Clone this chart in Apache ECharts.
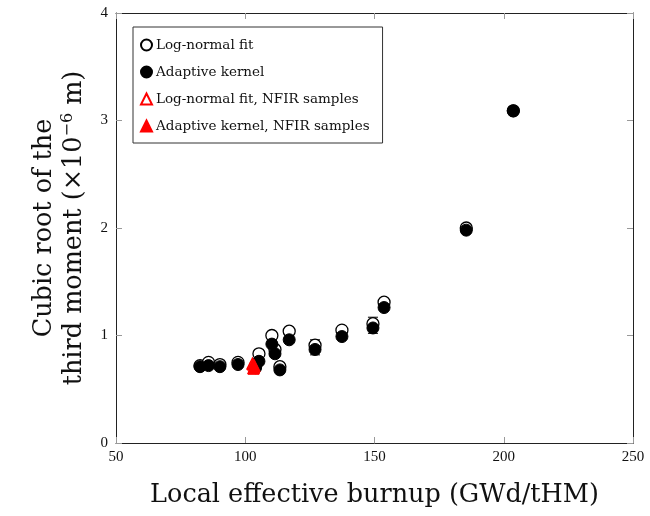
<!DOCTYPE html>
<html>
<head>
<meta charset="utf-8">
<script src="https://cdn.jsdelivr.net/npm/echarts@6/dist/echarts.min.js"></script>
<style>
  html, body { margin: 0; padding: 0; background: #fff; }
  #chart { width: 650px; height: 516px; }
</style>
</head>
<body>
<div id="chart"></div>
<script>
// Local effective burnup (GWd/tHM) of each sample
const burnup = [82.5, 85.8, 90.2, 97.2, 104.0, 105.3, 110.3, 111.5, 113.4, 117.0, 127.0, 137.4, 149.4, 153.7, 185.5, 203.7];
// Cubic root of the third moment (×10^-6 m)
const logNormal = [0.72, 0.75, 0.73, 0.75, 0.72, 0.83, 1.00, 0.87, 0.71, 1.04, 0.91, 1.05, 1.11, 1.31, 2.00, 3.09];
const adaptive  = [0.71, 0.72, 0.71, 0.73, 0.70, 0.76, 0.92, 0.83, 0.68, 0.96, 0.87, 0.99, 1.07, 1.26, 1.98, 3.09];

// NFIR samples
const nfirBurnup    = [102.8, 103.5, 103.2];
const nfirLogNormal = [0.74, 0.72, 0.70];
const nfirAdaptive  = [0.73, 0.71, 0.69];

// Uncertainty ranges of the log-normal fit
const errBurnup = [127.0, 149.4];
const errLow    = [0.82, 1.02];
const errHigh   = [0.96, 1.17];

const xTicks = [50, 100, 150, 200, 250];
const yTicks = [0, 1, 2, 3, 4];

const pairs = (xs, ys) => xs.map((x, i) => [x, ys[i]]);

const tickFont = '"Liberation Serif", "DejaVu Serif", serif';
const textFont = '"DejaVu Serif", "Liberation Serif", serif';

const chart = echarts.init(document.getElementById('chart'), null, { renderer: 'canvas' });

const axisCommon = {
  type: 'value',
  axisLine: { show: true, onZero: false, lineStyle: { color: '#222', width: 1 } },
  axisTick: { show: true, inside: true, length: 6, lineStyle: { color: '#999', width: 1 } },
  splitLine: { show: false },
};

chart.setOption({
  animation: false,
  backgroundColor: '#fff',
  grid: { left: 116, right: 17, top: 13, bottom: 73, containLabel: false },
  legend: {
    orient: 'vertical',
    left: 133,
    top: 27,
    padding: [11, 13, 10, 7],
    itemGap: 13,
    itemWidth: 11,
    itemHeight: 11,
    backgroundColor: '#fff',
    borderColor: '#333',
    borderWidth: 1,
    borderRadius: 0,
    textStyle: { fontFamily: textFont, fontSize: 13.5, color: '#111', padding: [0, 0, 0, -1] },
    data: ['Log-normal fit', 'Adaptive kernel', 'Log-normal fit, NFIR samples', 'Adaptive kernel, NFIR samples'],
  },
  xAxis: [
    Object.assign({}, axisCommon, {
      min: xTicks[0], max: xTicks[xTicks.length - 1], interval: 50,
      position: 'bottom',
      axisLabel: { color: '#111', fontFamily: tickFont, fontSize: 15, margin: 7 },
      name: 'Local effective burnup (GWd/tHM)',
      nameLocation: 'middle',
      nameGap: 39,
      nameTextStyle: { fontFamily: textFont, fontSize: 25.5, color: '#111', verticalAlign: 'top' },
    }),
    Object.assign({}, axisCommon, {
      min: xTicks[0], max: xTicks[xTicks.length - 1], interval: 50,
      position: 'top',
      axisLabel: { show: false },
    }),
  ],
  yAxis: [
    Object.assign({}, axisCommon, {
      min: yTicks[0], max: yTicks[yTicks.length - 1], interval: 1,
      position: 'left',
      axisLabel: { color: '#111', fontFamily: tickFont, fontSize: 15, margin: 8 },
      name: '{a|Cubic root of the}\n{a|third moment (×10}{s|−6}{a| m)}',
      nameLocation: 'middle',
      nameRotate: 90,
      nameGap: 24,
      nameTextStyle: {
        fontFamily: textFont, fontSize: 25.5, color: '#111', lineHeight: 30,
        rich: {
          a: { fontFamily: textFont, fontSize: 25.5, color: '#111', lineHeight: 30 },
          s: { fontFamily: textFont, fontSize: 16, color: '#111', verticalAlign: 'top', lineHeight: 30, padding: [0, 0, 10, 0] },
        },
      },
    }),
    Object.assign({}, axisCommon, {
      min: yTicks[0], max: yTicks[yTicks.length - 1], interval: 1,
      position: 'right',
      axisLabel: { show: false },
    }),
  ],
  series: [
    {
      name: 'Log-normal fit',
      type: 'scatter',
      symbol: 'circle',
      symbolSize: 12,
      itemStyle: { color: '#fff', borderColor: '#000', borderWidth: 1.3, opacity: 1 },
      data: pairs(burnup, logNormal),
      z: 3,
    },
    {
      name: 'Log-normal fit uncertainty',
      type: 'custom',
      data: errBurnup.map((x, i) => [x, errLow[i], errHigh[i]]),
      renderItem: (params, api) => {
        const lo = api.coord([api.value(0), api.value(1)]);
        const hi = api.coord([api.value(0), api.value(2)]);
        const w = 5;
        const st = { stroke: '#000', lineWidth: 1 };
        return {
          type: 'group',
          children: [
            { type: 'line', shape: { x1: lo[0], y1: lo[1], x2: hi[0], y2: hi[1] }, style: st },
            { type: 'line', shape: { x1: lo[0] - w, y1: lo[1], x2: lo[0] + w, y2: lo[1] }, style: st },
            { type: 'line', shape: { x1: hi[0] - w, y1: hi[1], x2: hi[0] + w, y2: hi[1] }, style: st },
          ],
        };
      },
      z: 2,
    },
    {
      name: 'Adaptive kernel',
      type: 'scatter',
      symbol: 'circle',
      symbolSize: 12,
      itemStyle: { color: '#000', borderColor: '#000', borderWidth: 1, opacity: 1 },
      data: pairs(burnup, adaptive),
      z: 4,
    },
    {
      name: 'Log-normal fit, NFIR samples',
      type: 'scatter',
      symbol: 'triangle',
      symbolSize: 11,
      itemStyle: { color: '#fff', borderColor: '#f00', borderWidth: 1.3, opacity: 1 },
      data: pairs(nfirBurnup, nfirLogNormal),
      z: 5,
    },
    {
      name: 'Adaptive kernel, NFIR samples',
      type: 'scatter',
      symbol: 'triangle',
      symbolSize: 11,
      itemStyle: { color: '#f00', borderColor: '#f00', borderWidth: 1, opacity: 1 },
      data: pairs(nfirBurnup, nfirAdaptive),
      z: 6,
    },
  ],
});
</script>
</body>
</html>
